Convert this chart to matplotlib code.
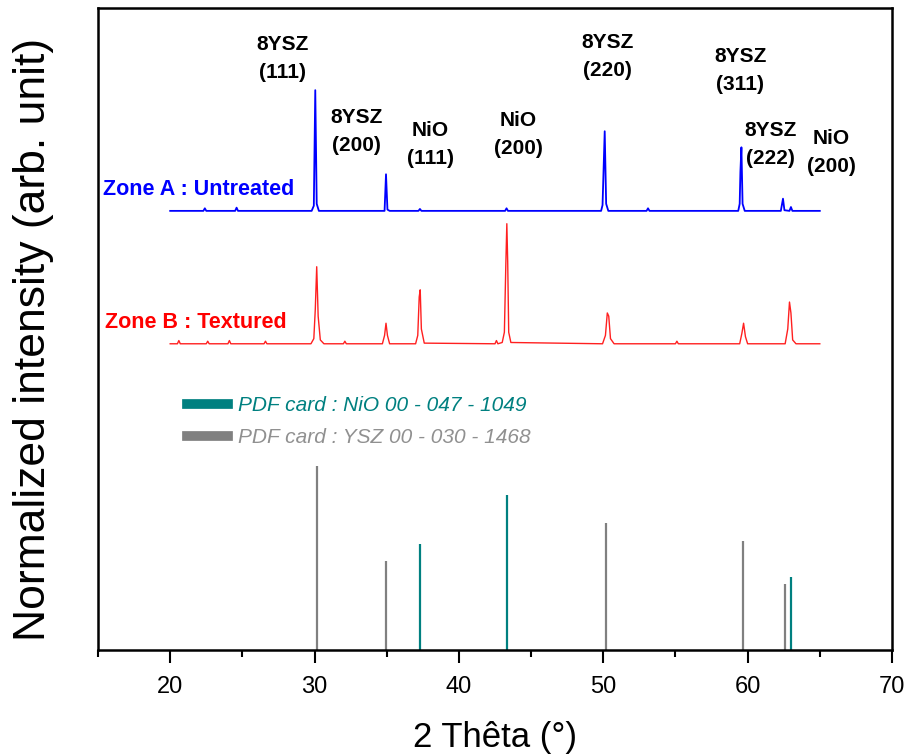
import matplotlib.pyplot as plt
from matplotlib.lines import Line2D
from matplotlib.ticker import MultipleLocator

plt.rcParams['font.family'] = ['Liberation Sans', 'DejaVu Sans']

# Zone A (untreated) trace
zoneA_x = [20.0, 22.3, 22.4, 22.5, 24.5, 24.6, 24.7, 29.8, 29.95, 30.05, 30.15, 30.3,
           34.85, 34.95, 35.05, 35.2, 37.2, 37.3, 37.4, 43.2, 43.3, 43.4, 49.85, 49.95,
           50.1, 50.2, 50.35, 53.0, 53.1, 53.2, 59.35, 59.45, 59.5, 59.57, 59.65,
           59.8, 62.3, 62.45, 62.55, 62.9, 63.0, 63.1, 65.0]
zoneA_y = [68.4, 68.4, 68.8, 68.4, 68.4, 68.9, 68.4, 68.4, 69.2, 87.2, 69.5, 68.4,
           68.4, 74.1, 68.6, 68.4, 68.4, 68.7, 68.4, 68.4, 68.8, 68.4, 68.4, 69.3,
           80.8, 69.5, 68.4, 68.4, 68.8, 68.4, 68.4, 69.5, 74.5, 78.3, 69.5,
           68.4, 68.4, 70.3, 68.5, 68.4, 69.0, 68.4, 68.4]

# Zone B (textured) trace
zoneB_x = [20.0, 20.5, 20.6, 20.7, 22.5, 22.6, 22.7, 24.0, 24.1, 24.2, 26.5, 26.6, 26.7,
           29.75, 29.95, 30.05, 30.15, 30.25, 30.4, 30.65, 32.0, 32.1, 32.2, 34.7,
           34.85, 34.95, 35.05, 35.2, 37.0, 37.15, 37.25, 37.32, 37.4, 37.6, 42.5,
           42.6, 42.7, 43.0, 43.15, 43.25, 43.32, 43.38, 43.45, 43.6, 49.95, 50.15,
           50.28, 50.38, 50.5, 50.75, 55.0, 55.1, 55.2, 59.45, 59.6, 59.72, 59.85, 60.0,
           62.6, 62.78, 62.9, 63.0, 63.12, 63.35, 65.0]
zoneB_y = [47.7, 47.7, 48.2, 47.7, 47.7, 48.1, 47.7, 47.7, 48.2, 47.7, 47.7, 48.1, 47.7,
           47.7, 48.5, 53.0, 59.7, 52.0, 48.3, 47.7, 47.7, 48.1, 47.7, 47.7,
           49.0, 50.9, 49.0, 47.7, 47.7, 49.0, 55.0, 56.1, 50.0, 47.8, 47.7,
           48.2, 47.7, 47.9, 49.5, 60.0, 66.4, 60.5, 49.5, 47.9, 47.7, 49.0,
           52.5, 52.0, 48.5, 47.7, 47.7, 48.1, 47.7, 47.7, 49.3, 50.9, 48.8, 47.7,
           47.7, 50.0, 54.2, 52.5, 48.3, 47.7, 47.7]

# reference cards (stick patterns)
ysz_pos = [30.15, 34.94, 50.2, 59.67, 62.58]
ysz_int = [28.7, 13.9, 19.8, 17.0, 10.3]
nio_pos = [37.3, 43.35, 62.98]
nio_int = [16.5, 24.1, 11.4]

# peak labels
peak_labels = ['8YSZ\n(111)', '8YSZ\n(200)', 'NiO\n(111)', 'NiO\n(200)',
               '8YSZ\n(220)', '8YSZ\n(311)', '8YSZ\n(222)', 'NiO\n(200)']
label_x = [27.8, 32.9, 38.0, 44.1, 50.3, 59.5, 61.6, 65.8]
label_y = [92.1, 80.8, 78.8, 80.3, 92.4, 90.3, 78.8, 77.5]

teal = '#008080'
grey = '#808080'

fig = plt.figure(figsize=(9.1, 7.54), dpi=100)
ax = fig.add_axes([0.1077, 0.1379, 0.8725, 0.8515])

ax.plot(zoneA_x, zoneA_y, color='#0000ff', lw=1.3)
ax.plot(zoneB_x, zoneB_y, color='#ff2020', lw=1.0)
ax.vlines(ysz_pos, 0, ysz_int, color=grey, lw=1.6)
ax.vlines(nio_pos, 0, nio_int, color=teal, lw=1.6)

for t, x, y in zip(peak_labels, label_x, label_y):
    ax.text(x, y, t, ha='center', va='center', fontsize=15, fontweight='bold',
            linespacing=1.6)

ax.text(15.35, 71.7, 'Zone A : Untreated', color='#0000ff', fontsize=15.5,
        fontweight='bold', va='center')
ax.text(15.5, 51.0, 'Zone B : Textured', color='#ff0000', fontsize=15.5,
        fontweight='bold', va='center')

handles = [Line2D([], [], color=teal, lw=7), Line2D([], [], color=grey, lw=7)]
leg = ax.legend(handles, ['PDF card : NiO 00 - 047 - 1049', 'PDF card : YSZ 00 - 030 - 1468'],
                loc='upper left', bbox_to_anchor=(0.088, 0.425), frameon=False,
                handlelength=2.0, handletextpad=0.45, labelspacing=0.62,
                prop={'size': 15, 'style': 'italic'})
for txt, c in zip(leg.get_texts(), [teal, '#909090']):
    txt.set_color(c)

ax.set_xlim(15, 70)
ax.set_ylim(0, 100)
ax.xaxis.set_major_locator(MultipleLocator(10))
ax.xaxis.set_minor_locator(MultipleLocator(5))
ax.tick_params(axis='x', which='major', direction='out', length=9, width=1.5,
               labelsize=17, pad=10)
ax.tick_params(axis='x', which='minor', direction='out', length=5, width=1.5)
ax.set_yticks([])
for s in ax.spines.values():
    s.set_linewidth(1.8)

ax.set_xlabel('2 Thêta (°)', fontsize=25, labelpad=16)
ax.set_ylabel('Normalized intensity (arb. unit)', fontsize=32)
ax.yaxis.set_label_coords(-0.055, 0.483)

fig.savefig('out.png', dpi=100)
